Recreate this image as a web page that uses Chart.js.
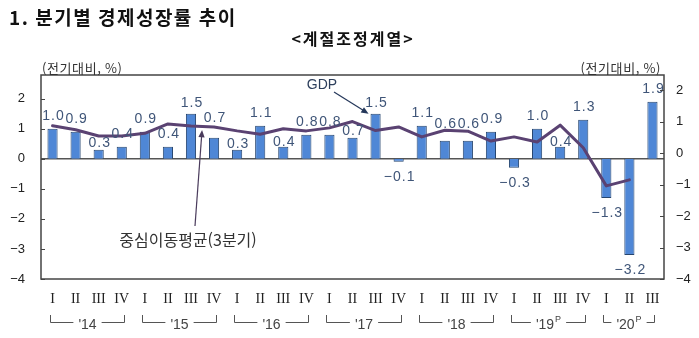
<!DOCTYPE html>
<html lang="ko">
<head>
<meta charset="utf-8">
<title>분기별 경제성장률 추이</title>
<script src="https://cdn.jsdelivr.net/npm/chart.js@4.4.1/dist/chart.umd.min.js"></script>
<style>
  html, body { margin: 0; padding: 0; background: #fff; }
  #wrap { position: relative; width: 699px; height: 338px; }
</style>
</head>
<body>
<div id="wrap"><canvas id="growth-chart"></canvas></div>
<script>
// quarterly real GDP growth, q/q %, seasonally adjusted
const quarterLabels = [
  'I', 'II', 'III', 'IV', 'I', 'II', 'III', 'IV', 'I', 'II', 'III', 'IV',
  'I', 'II', 'III', 'IV', 'I', 'II', 'III', 'IV', 'I', 'II', 'III', 'IV',
  'I', 'II', 'III'
];
const years = ["'14", "'15", "'16", "'17", "'18", "'19", "'20"];
const yearSup = ['', '', '', '', '', 'P', 'P'];
const yearSpan = [4, 4, 4, 4, 4, 4, 3];

const gdpGrowth = [
  1.0, 0.9, 0.3, 0.4, 0.9, 0.4, 1.5, 0.7, 0.3, 1.1, 0.4, 0.8,
  0.8, 0.7, 1.5, -0.1, 1.1, 0.6, 0.6, 0.9, -0.3, 1.0, 0.4, 1.3,
  -1.3, -3.2, 1.9
];
// centred 3-quarter moving average
const movingAvg = [
  1.1, 0.97, 0.76, 0.76, 0.85, 1.16, 1.09, 1.06, 0.93, 0.82, 1.0, 0.93,
  1.03, 1.24, 0.94, 1.06, 0.73, 0.95, 0.92, 0.59, 0.73, 0.56, 1.12, 0.37,
  -0.9, -0.7, null
];
const leftTicks = [-4, -3, -2, -1, 0, 1, 2];
const rightTicks = [-4, -3, -2, -1, 0, 1, 2];

// small vertical tweaks so value labels clear the line
const labelNudge = { 2: -6, 6: -2, 7: 7, 8: -7, 10: -8, 13: -6, 14: -2, 17: 4, 18: 4, 22: -8 };

const KR = '"Noto Sans CJK KR", sans-serif';
const NUM = '"Liberation Sans", Arial, sans-serif';

function fmtValue(v) { return (v < 0 ? '\u2212' : '') + Math.abs(v).toFixed(1); }
function fmtTick(v) { return v < 0 ? '\u2212' + Math.abs(v) : String(v); }

function drawArrow(ctx, x1, y1, x2, y2, color, head) {
  const ang = Math.atan2(y2 - y1, x2 - x1);
  ctx.save();
  ctx.strokeStyle = color;
  ctx.fillStyle = color;
  ctx.lineWidth = 1.2;
  ctx.beginPath();
  ctx.moveTo(x1, y1);
  ctx.lineTo(x2 - Math.cos(ang) * head * 0.8, y2 - Math.sin(ang) * head * 0.8);
  ctx.stroke();
  ctx.beginPath();
  ctx.moveTo(x2, y2);
  ctx.lineTo(x2 - head * Math.cos(ang - 0.4), y2 - head * Math.sin(ang - 0.4));
  ctx.lineTo(x2 - head * Math.cos(ang + 0.4), y2 - head * Math.sin(ang + 0.4));
  ctx.closePath();
  ctx.fill();
  ctx.restore();
}

const decor = {
  id: 'decor',
  beforeDatasetsDraw(chart) {
    const { ctx, chartArea: a, scales: { y } } = chart;
    const y0 = y.getPixelForValue(0);
    ctx.save();
    ctx.strokeStyle = '#555';
    ctx.lineWidth = 1.5;
    ctx.beginPath();
    ctx.moveTo(a.left, y0);
    ctx.lineTo(a.right, y0);
    ctx.stroke();
    ctx.restore();
  },
  afterDatasetsDraw(chart) {
    const { ctx } = chart;
    const bars = chart.getDatasetMeta(0).data;
    ctx.save();
    ctx.font = '14px ' + NUM;
    ctx.fillStyle = '#3f5578';
    ctx.textAlign = 'center';
    ctx.textBaseline = 'middle';
    ctx.letterSpacing = '1px';
    gdpGrowth.forEach((v, i) => {
      const b = bars[i];
      const ty = v >= 0 ? b.y - 13 - (labelNudge[i] || 0) : b.y + 15;
      ctx.fillText(fmtValue(v), b.x + 1, ty);
    });
    ctx.restore();
  },
  afterDraw(chart) {
    const { ctx, chartArea: a, scales: { x, y, y2 } } = chart;
    ctx.save();

    // plot frame and inner tick marks
    ctx.strokeStyle = '#444';
    ctx.lineWidth = 1.5;
    ctx.strokeRect(a.left, a.top, a.right - a.left, a.bottom - a.top);
    ctx.lineWidth = 1;
    ctx.beginPath();
    leftTicks.forEach(v => {
      const py = Math.round(y.getPixelForValue(v)) + 0.5;
      ctx.moveTo(a.left, py); ctx.lineTo(a.left + 4, py);
    });
    rightTicks.forEach(v => {
      const py = Math.round(y2.getPixelForValue(v)) + 0.5;
      ctx.moveTo(a.right, py); ctx.lineTo(a.right - 4, py);
    });
    ctx.stroke();

    // titles
    ctx.fillStyle = '#111';
    ctx.textBaseline = 'middle';
    ctx.textAlign = 'left';
    ctx.font = 'bold 19px ' + KR;
    ctx.letterSpacing = '1.5px';
    ctx.fillText('1. 분기별 경제성장률 추이', 9, 18);
    ctx.textAlign = 'center';
    ctx.font = 'bold 16px ' + KR;
    ctx.letterSpacing = '2px';
    ctx.fillText('<계절조정계열>', 353, 39);

    ctx.fillStyle = '#333';
    ctx.font = '13px ' + KR;
    ctx.letterSpacing = '0.6px';
    ctx.textAlign = 'left';
    ctx.fillText('(전기대비, %)', 42, 68);
    ctx.textAlign = 'right';
    ctx.fillText('(전기대비, %)', 661, 68);
    ctx.letterSpacing = '0px';

    // series callouts
    const gx = x.getPixelForValue(14) - 7;
    const gy = y.getPixelForValue(gdpGrowth[14]);
    ctx.textAlign = 'center';
    ctx.fillStyle = '#2d3f5c';
    ctx.font = '14px ' + NUM;
    ctx.fillText('GDP', 322, 85);
    drawArrow(ctx, 334, 92, gx, gy, '#24375a', 8);

    const mx = x.getPixelForValue(7) - 12;
    const my = y.getPixelForValue(movingAvg[7]) + 3;
    ctx.fillStyle = '#333';
    ctx.font = '16px ' + KR;
    ctx.fillText('중심이동평균(3분기)', 188, 240);
    drawArrow(ctx, 195, 226, mx, my, '#4a3b5c', 8);

    // year brackets under the quarter labels
    ctx.strokeStyle = '#555';
    ctx.lineWidth = 1;
    ctx.fillStyle = '#444';
    let start = 0;
    years.forEach((yr, k) => {
      const n = yearSpan[k];
      const xl = Math.round(x.getPixelForValue(start) - 3) + 0.5;
      const xr = Math.round(x.getPixelForValue(start + n - 1) + 2) + 0.5;
      const mid = (xl + xr) / 2;
      ctx.font = '14px ' + NUM;
      const w1 = ctx.measureText(yr).width;
      ctx.font = '9px ' + NUM;
      const w2 = yearSup[k] ? ctx.measureText(yearSup[k]).width + 1 : 0;
      const tx = mid - (w1 + w2) / 2;
      ctx.beginPath();
      ctx.moveTo(xl, 315); ctx.lineTo(xl, 322.5); ctx.lineTo(tx - 5, 322.5);
      ctx.moveTo(tx + w1 + w2 + 5, 322.5); ctx.lineTo(xr, 322.5); ctx.lineTo(xr, 315);
      ctx.stroke();
      ctx.textAlign = 'left';
      ctx.font = '14px ' + NUM;
      ctx.fillText(yr, tx, 325);
      if (yearSup[k]) {
        ctx.font = '9px ' + NUM;
        ctx.fillText(yearSup[k], tx + w1 + 1, 320);
      }
      start += n;
    });
    ctx.restore();
  }
};

new Chart(document.getElementById('growth-chart'), {
  data: {
    labels: quarterLabels,
    datasets: [
      {
        type: 'bar',
        data: gdpGrowth,
        backgroundColor: '#4f87d6',
        borderColor: '#26456f',
        borderWidth: 1,
        barPercentage: 0.44,
        categoryPercentage: 1,
        yAxisID: 'y',
        order: 2
      },
      {
        type: 'line',
        data: movingAvg,
        borderColor: '#5a4272',
        borderWidth: 3,
        borderJoinStyle: 'round',
        borderCapStyle: 'round',
        pointRadius: 0,
        tension: 0,
        fill: false,
        yAxisID: 'y',
        order: 1
      }
    ]
  },
  options: {
    responsive: true,
    maintainAspectRatio: false,
    animation: false,
    layout: { padding: { top: 75, left: 0, right: 0, bottom: 0 } },
    plugins: { legend: { display: false }, tooltip: { enabled: false } },
    scales: {
      x: {
        type: 'category',
        offset: true,
        grid: { display: false, drawTicks: false },
        border: { display: false },
        ticks: {
          autoSkip: false,
          maxRotation: 0,
          padding: 12,
          color: '#222',
          font: { family: '"Liberation Serif", serif', size: 14 }
        },
        afterFit: s => { s.height = 59; }
      },
      y: {
        position: 'left',
        min: -4,
        max: 2.79,
        grid: { display: false, drawTicks: false },
        border: { display: false },
        afterBuildTicks: s => { s.ticks = leftTicks.map(v => ({ value: v })); },
        ticks: { padding: 16, color: '#222', font: { family: NUM, size: 13 }, callback: v => fmtTick(v) },
        afterFit: s => { s.width = 41; }
      },
      y2: {
        position: 'right',
        min: -4,
        max: 2.48,
        grid: { display: false, drawTicks: false },
        border: { display: false },
        afterBuildTicks: s => { s.ticks = rightTicks.map(v => ({ value: v })); },
        ticks: { padding: 12, color: '#222', font: { family: NUM, size: 13 }, callback: v => fmtTick(v) },
        afterFit: s => { s.width = 35; }
      }
    }
  },
  plugins: [decor]
});
</script>
</body>
</html>
